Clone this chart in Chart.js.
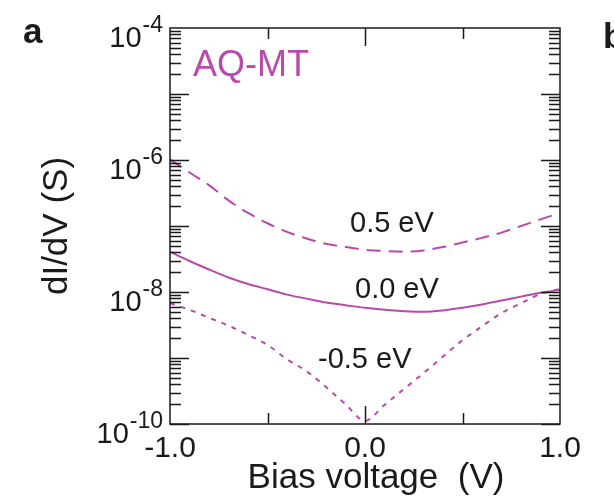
<!DOCTYPE html>
<html>
<head>
<meta charset="utf-8">
<script src="https://cdn.jsdelivr.net/npm/chart.js@4/dist/chart.umd.min.js"></script>
<style>
  html, body { margin: 0; padding: 0; background: #fff; }
  #wrap { width: 614px; height: 501px; position: relative; }
</style>
</head>
<body>
<div id="wrap"><canvas id="c" width="614" height="501"></canvas></div>
<script>
// Bias voltage (V)
const biasVoltage = [-1.0, -0.9, -0.8, -0.7, -0.6, -0.5, -0.4, -0.3, -0.2, -0.1, 0.0,
                     0.1, 0.2, 0.3, 0.4, 0.5, 0.6, 0.7, 0.8, 0.9, 1.0];
// dI/dV (S)
const dIdV_p05 = [1.02e-6, 6.46e-7, 4.17e-7, 2.45e-7, 1.58e-7, 1.10e-7, 8.13e-8, 6.46e-8, 5.37e-8, 4.79e-8, 4.37e-8,
                  4.17e-8, 4.07e-8, 4.27e-8, 4.79e-8, 5.62e-8, 6.61e-8, 7.94e-8, 1.00e-7, 1.26e-7, 1.58e-7];
const dIdV_00  = [4.07e-8, 2.95e-8, 2.19e-8, 1.66e-8, 1.32e-8, 1.10e-8, 9.12e-9, 7.94e-9, 6.92e-9, 6.31e-9, 5.75e-9,
                  5.37e-9, 5.13e-9, 5.01e-9, 5.25e-9, 5.75e-9, 6.46e-9, 7.41e-9, 8.51e-9, 9.77e-9, 1.07e-8];
const dIdV_m05 = [6.76e-9, 5.37e-9, 4.07e-9, 3.09e-9, 2.24e-9, 1.58e-9, 9.55e-10, 6.31e-10, 3.63e-10, 2.00e-10, 1.12e-10,
                  1.95e-10, 3.39e-10, 5.89e-10, 1.05e-9, 1.86e-9, 3.02e-9, 4.79e-9, 6.76e-9, 9.33e-9, 1.12e-8];
const seriesLabels = ['0.5 eV', '0.0 eV', '-0.5 eV'];
const yTickExponents = ['-4', '-6', '-8', '-10'];
const yTickValues = [1e-4, 1e-6, 1e-8, 1e-10];
const xTickLabels = ['-1.0', '0.0', '1.0'];
const xTickValues = [-1.0, 0.0, 1.0];
const xMinorTicks = [-0.5, 0.5];
const panelTitle = 'AQ-MT';
const xTitle = 'Bias voltage  (V)';
const yTitle = 'dI/dV (S)';

const MAG = '#b94aab';
const INK = '#1a1a1a';
const FONT = "'Liberation Sans', Arial, sans-serif";

function pts(vals) { return biasVoltage.map((x, i) => ({ x: x, y: vals[i] })); }

const decor = {
  id: 'decor',
  afterDraw(chart) {
    const ctx = chart.ctx, a = chart.chartArea, xs = chart.scales.x, ys = chart.scales.y;
    ctx.save();
    ctx.strokeStyle = INK;
    ctx.lineWidth = 1.5;
    ctx.strokeRect(a.left, a.top, a.right - a.left, a.bottom - a.top);
    ctx.beginPath();
    for (let e = -10; e <= -5; e++) {
      for (let m = 1; m <= 9; m++) {
        const v = m * Math.pow(10, e);
        const py = Math.round(ys.getPixelForValue(v)) + 0.5;
        const len = (m === 1) ? 19 : 11;
        ctx.moveTo(a.left, py); ctx.lineTo(a.left + len, py);
        ctx.moveTo(a.right, py); ctx.lineTo(a.right - len, py);
      }
    }
    const xt = [[0.0, 18]].concat(xMinorTicks.map(v => [v, 11]));
    xt.forEach(([v, len]) => {
      const px = Math.round(xs.getPixelForValue(v)) + 0.5;
      ctx.moveTo(px, a.bottom); ctx.lineTo(px, a.bottom - len);
      ctx.moveTo(px, a.top); ctx.lineTo(px, a.top + len);
    });
    ctx.stroke();

    // y tick labels 10^n
    ctx.fillStyle = INK;
    ctx.textBaseline = 'alphabetic';
    yTickValues.forEach((v, i) => {
      const py = ys.getPixelForValue(v);
      const right = a.left - 7;
      ctx.font = '23px ' + FONT;
      const ew = ctx.measureText(yTickExponents[i]).width;
      ctx.textAlign = 'right';
      ctx.fillText(yTickExponents[i], right, py + 4);
      ctx.font = '29px ' + FONT;
      ctx.fillText('10', right - ew - 1, py + 19);
    });
    // x tick labels
    ctx.font = '30px ' + FONT;
    ctx.textAlign = 'center';
    xTickValues.forEach((v, i) => {
      ctx.fillText(xTickLabels[i], xs.getPixelForValue(v), a.bottom + 33);
    });
    // axis titles
    ctx.font = '35px ' + FONT;
    ctx.fillText(xTitle, (a.left + a.right) / 2 + 11, 488);
    ctx.save();
    ctx.translate(67, 226);
    ctx.rotate(-Math.PI / 2);
    ctx.textAlign = 'center';
    ctx.fillText(yTitle, 0, 0);
    ctx.restore();
    // panel letters
    ctx.font = 'bold 35px ' + FONT;
    ctx.textAlign = 'left';
    ctx.fillText('a', 23, 43);
    ctx.fillText('b', 603, 48);
    // panel title
    ctx.fillStyle = MAG;
    ctx.font = '36px ' + FONT;
    ctx.fillText(panelTitle, a.left + 23, a.top + 48);
    // curve annotations
    ctx.fillStyle = INK;
    ctx.font = '29px ' + FONT;
    ctx.fillText(seriesLabels[0], 350, 232);
    ctx.fillText(seriesLabels[1], 355, 298);
    ctx.fillText(seriesLabels[2], 318, 368);
    ctx.restore();
  }
};

new Chart(document.getElementById('c'), {
  type: 'line',
  data: {
    datasets: [
      { label: seriesLabels[0], data: pts(dIdV_p05), borderColor: MAG, borderWidth: 2, borderDash: [14, 8], pointRadius: 0, cubicInterpolationMode: 'monotone', fill: false },
      { label: seriesLabels[1], data: pts(dIdV_00), borderColor: MAG, borderWidth: 2, pointRadius: 0, cubicInterpolationMode: 'monotone', fill: false },
      { label: seriesLabels[2], data: pts(dIdV_m05), borderColor: MAG, borderWidth: 2, borderDash: [5, 6], pointRadius: 0, cubicInterpolationMode: 'monotone', fill: false }
    ]
  },
  options: {
    responsive: false,
    animation: false,
    devicePixelRatio: 1,
    layout: { padding: { left: 170, top: 28, right: 54, bottom: 77 } },
    plugins: { legend: { display: false }, tooltip: { enabled: false } },
    scales: {
      x: { type: 'linear', min: -1, max: 1, display: false },
      y: { type: 'logarithmic', min: 1e-10, max: 1e-4, display: false }
    }
  },
  plugins: [decor]
});
</script>
</body>
</html>
